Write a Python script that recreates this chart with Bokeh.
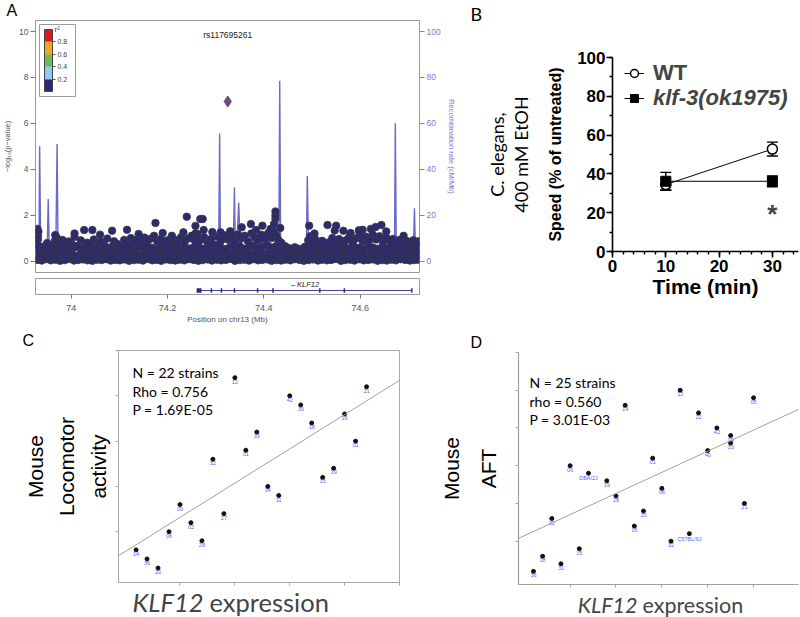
import numpy as np
from bokeh.plotting import figure
from bokeh.models import (Range1d, LinearAxis, FixedTicker, SingleIntervalTicker, Label, ColorBar,
                          LinearColorMapper, Whisker, TeeHead, ColumnDataSource, Legend, LegendItem,
                          Slope, NumeralTickFormatter, Title)
from bokeh.layouts import row, column
from bokeh.core.properties import value
from bokeh.embed import file_html
from bokeh.resources import INLINE

# ---------------- Panel A data (LocusZoom-like) ----------------
snp_band_low = [
    (73.930, 0.05), (73.939, 0.02), (73.948, 0.08), (73.958, 0.03), (73.968, 0.06), (73.977, 0.01), (73.987, 0.04), (73.996, 0.09),
    (74.006, 0.02), (74.015, 0.05), (74.025, 0.07), (74.034, 0.03), (74.044, 0.01), (74.054, 0.06), (74.063, 0.04), (74.072, 0.08),
    (74.082, 0.02), (74.092, 0.05), (74.101, 0.03), (74.111, 0.07), (74.120, 0.01), (74.130, 0.04), (74.139, 0.06), (74.149, 0.02),
    (74.158, 0.09), (74.168, 0.03), (74.178, 0.05), (74.187, 0.01), (74.197, 0.07), (74.206, 0.04), (74.216, 0.02), (74.225, 0.06),
    (74.235, 0.03), (74.245, 0.08), (74.254, 0.05), (74.264, 0.01), (74.273, 0.04), (74.283, 0.07), (74.292, 0.02), (74.302, 0.06),
    (74.311, 0.03), (74.321, 0.05), (74.330, 0.09), (74.340, 0.01), (74.350, 0.04), (74.359, 0.06), (74.369, 0.02), (74.378, 0.08),
    (74.388, 0.03), (74.397, 0.05), (74.407, 0.07), (74.416, 0.01), (74.426, 0.04), (74.436, 0.02), (74.445, 0.06), (74.455, 0.03),
    (74.464, 0.08), (74.474, 0.05), (74.483, 0.01), (74.493, 0.04), (74.502, 0.07), (74.512, 0.02), (74.521, 0.06), (74.531, 0.03),
    (74.540, 0.05), (74.550, 0.09), (74.560, 0.01), (74.569, 0.04), (74.579, 0.06), (74.588, 0.02), (74.598, 0.08), (74.607, 0.03),
    (74.617, 0.05), (74.626, 0.07), (74.636, 0.01), (74.646, 0.04), (74.655, 0.02), (74.665, 0.06), (74.674, 0.03), (74.684, 0.08),
    (74.693, 0.05), (74.703, 0.02), (74.712, 0.04), (74.720, 0.06)]
snp_band_low2 = [
    (73.934, 0.16), (73.944, 0.20), (73.953, 0.13), (73.963, 0.18), (73.972, 0.15), (73.982, 0.21), (73.991, 0.12), (74.001, 0.17),
    (74.010, 0.19), (74.020, 0.14), (74.030, 0.20), (74.039, 0.16), (74.049, 0.13), (74.058, 0.18), (74.068, 0.21), (74.077, 0.15),
    (74.087, 0.12), (74.096, 0.19), (74.106, 0.16), (74.116, 0.14), (74.125, 0.20), (74.135, 0.17), (74.144, 0.13), (74.154, 0.18),
    (74.163, 0.21), (74.173, 0.15), (74.182, 0.12), (74.192, 0.19), (74.202, 0.16), (74.211, 0.20), (74.221, 0.14), (74.230, 0.17),
    (74.240, 0.13), (74.249, 0.21), (74.259, 0.18), (74.268, 0.15), (74.278, 0.12), (74.287, 0.19), (74.297, 0.16), (74.306, 0.20),
    (74.316, 0.13), (74.325, 0.18), (74.335, 0.15), (74.345, 0.21), (74.354, 0.17), (74.364, 0.12), (74.373, 0.19), (74.383, 0.14),
    (74.392, 0.20), (74.402, 0.16), (74.411, 0.13), (74.421, 0.18), (74.431, 0.21), (74.440, 0.15), (74.450, 0.12), (74.459, 0.19),
    (74.469, 0.17), (74.478, 0.14), (74.488, 0.20), (74.497, 0.16), (74.507, 0.13), (74.516, 0.18), (74.526, 0.21), (74.535, 0.15),
    (74.545, 0.12), (74.555, 0.19), (74.564, 0.16), (74.574, 0.20), (74.583, 0.14), (74.593, 0.17), (74.602, 0.13), (74.612, 0.21),
    (74.621, 0.18), (74.631, 0.15), (74.641, 0.12), (74.650, 0.19), (74.660, 0.16), (74.669, 0.20), (74.679, 0.14), (74.688, 0.17),
    (74.698, 0.13), (74.707, 0.18), (74.716, 0.15)]
snp_band_mid = [
    (73.934, 0.30), (73.944, 0.38), (73.953, 0.25), (73.963, 0.42), (73.972, 0.33), (73.982, 0.28), (73.991, 0.40), (74.001, 0.35),
    (74.010, 0.22), (74.020, 0.37), (74.030, 0.31), (74.039, 0.44), (74.049, 0.27), (74.058, 0.36), (74.068, 0.30), (74.077, 0.41),
    (74.087, 0.24), (74.096, 0.34), (74.106, 0.39), (74.116, 0.29), (74.125, 0.43), (74.135, 0.32), (74.144, 0.26), (74.154, 0.38),
    (74.163, 0.35), (74.173, 0.30), (74.182, 0.42), (74.192, 0.25), (74.202, 0.37), (74.211, 0.33), (74.221, 0.40), (74.230, 0.28),
    (74.240, 0.36), (74.249, 0.31), (74.259, 0.44), (74.268, 0.38), (74.278, 0.27), (74.287, 0.35), (74.297, 0.41), (74.306, 0.30),
    (74.316, 0.34), (74.325, 0.39), (74.335, 0.26), (74.345, 0.43), (74.354, 0.32), (74.364, 0.37), (74.373, 0.29), (74.383, 0.40),
    (74.392, 0.35), (74.402, 0.31), (74.411, 0.45), (74.421, 0.38), (74.431, 0.42), (74.440, 0.28), (74.450, 0.24), (74.459, 0.30),
    (74.469, 0.26), (74.478, 0.33), (74.488, 0.29), (74.497, 0.36), (74.507, 0.31), (74.516, 0.40), (74.526, 0.27), (74.535, 0.35),
    (74.545, 0.38), (74.555, 0.30), (74.564, 0.42), (74.574, 0.33), (74.583, 0.29), (74.593, 0.37), (74.602, 0.41), (74.612, 0.26),
    (74.621, 0.34), (74.631, 0.39), (74.641, 0.31), (74.650, 0.43), (74.660, 0.36), (74.669, 0.28), (74.679, 0.40), (74.688, 0.33),
    (74.698, 0.37), (74.707, 0.30), (74.716, 0.35)]
snp_band_upmid = [
    (73.930, 0.55), (73.939, 0.60), (73.948, 0.52), (73.958, 0.63), (73.968, 0.57), (73.977, 0.50), (73.987, 0.61), (73.996, 0.54),
    (74.006, 0.58), (74.015, 0.64), (74.025, 0.51), (74.034, 0.59), (74.044, 0.56), (74.054, 0.62), (74.063, 0.53), (74.072, 0.60),
    (74.082, 0.57), (74.092, 0.50), (74.101, 0.63), (74.111, 0.55), (74.120, 0.59), (74.130, 0.52), (74.139, 0.61), (74.149, 0.56),
    (74.158, 0.64), (74.168, 0.58), (74.178, 0.51), (74.187, 0.60), (74.197, 0.54), (74.206, 0.62), (74.216, 0.57), (74.225, 0.50),
    (74.235, 0.63), (74.245, 0.55), (74.254, 0.59), (74.264, 0.66), (74.273, 0.53), (74.283, 0.61), (74.292, 0.56), (74.302, 0.64),
    (74.311, 0.58), (74.321, 0.52), (74.330, 0.62), (74.340, 0.57), (74.350, 0.65), (74.359, 0.54), (74.369, 0.60), (74.378, 0.68),
    (74.388, 0.56), (74.397, 0.63), (74.407, 0.70), (74.416, 0.59), (74.426, 0.66), (74.436, 0.55), (74.445, 0.48), (74.455, 0.44),
    (74.464, 0.47), (74.474, 0.42), (74.483, 0.46), (74.493, 0.58), (74.502, 0.52), (74.512, 0.61), (74.521, 0.55), (74.531, 0.50),
    (74.540, 0.63), (74.550, 0.57), (74.560, 0.53), (74.569, 0.60), (74.579, 0.55), (74.588, 0.62), (74.598, 0.58), (74.607, 0.52),
    (74.617, 0.64), (74.626, 0.59), (74.636, 0.54), (74.646, 0.61), (74.655, 0.57), (74.665, 0.63), (74.674, 0.53), (74.684, 0.60),
    (74.693, 0.56), (74.703, 0.62), (74.712, 0.58), (74.720, 0.54)]
snp_band_high = [
    (73.929, 0.72), (73.931, 0.95), (73.931, 1.10), (73.932, 1.28), (73.941, 0.62), (73.950, 0.78), (73.959, 0.66), (73.966, 0.88),
    (73.970, 1.02), (73.975, 0.70), (73.982, 0.92), (73.988, 0.60), (73.994, 0.85), (74.001, 0.74), (74.007, 1.05), (74.013, 0.66),
    (74.020, 0.90), (74.027, 0.58), (74.033, 0.80), (74.040, 0.68), (74.047, 0.94), (74.054, 0.62), (74.061, 0.84), (74.068, 0.71),
    (74.075, 0.98), (74.082, 0.60), (74.089, 0.86), (74.096, 0.74), (74.103, 0.64), (74.110, 0.92), (74.118, 0.70), (74.124, 1.00),
    (74.131, 0.82), (74.138, 0.96), (74.145, 0.76), (74.152, 1.02), (74.159, 0.88), (74.166, 0.98), (74.172, 1.10), (74.179, 0.84),
    (74.186, 0.96), (74.193, 0.72), (74.200, 0.90), (74.207, 0.66), (74.214, 0.94), (74.221, 0.80), (74.228, 1.04), (74.236, 0.86),
    (74.243, 0.98), (74.250, 1.10), (74.256, 0.90), (74.262, 1.18), (74.269, 0.92), (74.276, 1.04), (74.283, 0.80), (74.290, 0.96),
    (74.297, 0.72), (74.304, 1.06), (74.311, 0.88), (74.318, 1.12), (74.325, 0.94), (74.332, 1.08), (74.339, 0.84), (74.346, 1.16),
    (74.353, 0.98), (74.360, 1.10), (74.367, 0.86), (74.374, 1.20), (74.381, 1.02), (74.388, 0.90), (74.395, 1.14), (74.402, 0.96),
    (74.409, 1.22), (74.416, 1.00), (74.420, 1.30), (74.426, 1.12), (74.430, 0.92), (74.436, 0.80), (74.443, 0.66), (74.450, 0.58),
    (74.457, 0.52), (74.464, 0.60), (74.471, 0.54), (74.478, 0.50), (74.485, 0.62), (74.492, 0.90), (74.496, 1.08), (74.500, 0.78),
    (74.507, 0.94), (74.514, 0.70), (74.521, 0.88), (74.528, 0.64), (74.535, 0.82), (74.542, 1.00), (74.549, 0.76), (74.556, 0.96),
    (74.563, 0.68), (74.570, 0.90), (74.577, 1.04), (74.584, 0.80), (74.591, 0.98), (74.598, 1.12), (74.605, 0.86), (74.612, 1.06),
    (74.619, 0.92), (74.626, 1.16), (74.633, 0.94), (74.640, 1.08), (74.647, 0.84), (74.654, 1.02), (74.661, 0.88), (74.668, 0.96),
    (74.675, 0.80), (74.682, 0.92), (74.689, 0.76), (74.696, 0.88), (74.703, 0.82), (74.710, 0.90), (74.716, 0.74), (74.721, 0.86)]
snp_upper = [
    (73.930, 1.40), (73.967, 1.13), (74.007, 1.20), (74.027, 1.35), (74.044, 1.35), (74.085, 1.32), (74.116, 1.36), (74.175, 1.66),
    (74.209, 1.10), (74.233, 1.25), (74.240, 1.93), (74.258, 1.53), (74.258, 1.20), (74.268, 1.83), (74.273, 1.83), (74.275, 1.35),
    (74.293, 1.26), (74.354, 1.47), (74.373, 1.61), (74.397, 1.54), (74.421, 1.61), (74.424, 1.85), (74.424, 1.99), (74.424, 2.16),
    (74.434, 1.44), (74.494, 1.54), (74.532, 1.57), (74.547, 1.33), (74.550, 1.54), (74.565, 1.32), (74.597, 1.34), (74.605, 1.36),
    (74.622, 1.40), (74.632, 1.48), (74.644, 1.57), (74.654, 1.29), (74.414, 1.40), (74.310, 1.25), (74.330, 1.30), (74.384, 1.35),
    (74.060, 1.15), (74.140, 1.18), (74.190, 1.22), (74.505, 1.20), (74.580, 1.22), (74.690, 1.10)]
lead_snp = "rs117695261"
lead_pos = 74.325
lead_logp = 6.95

recomb_pos = [73.926, 73.933, 73.9346, 73.937, 73.950, 73.9524, 73.955, 73.968, 73.9708, 73.973, 74.100, 74.306,
              74.3082, 74.310, 74.336, 74.3389, 74.341, 74.343, 74.3477, 74.352, 74.431, 74.4329, 74.435, 74.488,
              74.4901, 74.493, 74.671, 74.6728, 74.675, 74.710, 74.7125, 74.715, 74.723]
recomb_rate = [1.0, 1.0, 50.0, 1.0, 1.0, 27.0, 1.0, 1.0, 51.0, 1.0, 0.5, 0.5,
               55.6, 0.5, 0.5, 32.0, 1.0, 3.0, 25.5, 1.0, 0.5, 78.6, 0.5, 0.5,
               37.0, 1.0, 0.5, 60.0, 0.5, 0.5, 23.0, 0.5, 0.5]

r2_palette = ["#2b2a78", "#8ecbf2", "#6cbd4f", "#f2a52d", "#e0181b"]
r2_ticks = [0.2, 0.4, 0.6, 0.8]

gene_name = ["KLF12"]
gene_start = [74.261]
gene_end = [74.707]
exon_start = [74.261, 74.290, 74.311, 74.338, 74.386, 74.418, 74.515, 74.566, 74.706]
exon_end = [74.270, 74.292, 74.313, 74.340, 74.388, 74.420, 74.517, 74.568, 74.708]
chr_ticks = [74.0, 74.2, 74.4, 74.6]

# ---------------- Panel B data ----------------
time_min = [10, 30]
wt_speed = [34.5, 52.8]
wt_sem = [2.8, 3.6]
klf3_speed = [36.2, 36.2]
klf3_sem = [4.6, 2.8]

# ---------------- Panel C data (ranks) ----------------
c_strains = ["14", "36", "20", "06", "09", "02", "28", "32", "27", "12", "31",
             "33", "34", "11", "42", "39", "18", "15", "19", "16", "01", "21"]
c_expr_rank = [1, 2, 3, 4, 5, 6, 7, 8, 9, 10, 11, 12, 13, 14, 15, 16, 17, 18, 19, 20, 21, 22]
c_loco_rank = [3, 2, 1, 5, 8, 6, 4, 13, 7, 22, 14, 16, 10, 9, 20, 19, 17, 11, 12, 18, 15, 21]
c_stats = ["N = 22 strains", "Rho = 0.756", "P = 1.69E-05"]

# ---------------- Panel D data (ranks) ----------------
d_strains = ["36", "18", "02", "31", "06", "15", "DBA/2J", "", "19", "28", "14", "16", "20",
             "01", "08", "32", "12", "C57BL/6J", "22", "40", "42", "09", "33", "21", "05"]
d_expr_rank = [1, 2, 3, 4, 5, 6, 7, 8, 9, 10, 11, 12, 13, 14, 15, 16, 17, 18, 19, 20, 21, 22.5, 22.5, 24, 25]
d_aft_rank = [1, 3, 8, 2, 15, 4, 14, 21, 13, 11, 23, 7, 9, 16, 12, 5, 25, 6, 22, 17, 20, 19, 18, 10, 24]
d_stats = ["N = 25 strains", "rho = 0.560", "P = 3.01E-03"]

SANS = "Liberation Sans"
CAL = "Lato"


def frame_map(left, right, top, bottom, x0, x1, y0, y1):
    def f(px, py):
        return (x0 + (px - left) / (right - left) * (x1 - x0),
                y0 + (bottom - py) / (bottom - top) * (y1 - y0))
    return f


def txt(p, fmap, px, py, text, size, color="black", font=SANS, style="normal",
        align="left", baseline="middle", bg=None):
    x, y = fmap(px, py)
    p.add_layout(Label(x=x, y=y, text=text, text_font=font, text_font_size=f"{size}px",
                       text_font_style=style, text_color=color, text_align=align,
                       text_baseline=baseline, background_fill_color=bg))


def base_fig(**kw):
    p = figure(output_backend="svg", toolbar_location=None, **kw)
    p.grid.visible = False
    return p


def panel_letter(p, letter, size, offset, font=SANS, valign="top", standoff=0):
    p.title.text = letter
    p.title.align = "left"
    p.title.vertical_align = valign
    p.title.offset = offset
    p.title.standoff = standoff
    p.title.text_font = font
    p.title.text_font_size = f"{size}px"
    p.title.text_font_style = "normal"
    p.title.text_color = "black"


def hide_tick_labels(ax):
    ax.major_label_text_font_size = "1px"
    ax.major_label_text_color = None
    ax.major_label_standoff = 0

# =============== Panel A ===============
FA = frame_map(33, 423, 20, 272, 73.926, 74.723, -0.5, 10.48)
pA = base_fig(width=458, height=276, x_range=Range1d(73.926, 74.723), y_range=Range1d(-0.5, 10.48),
              x_axis_location=None, min_border_left=33, min_border_right=35,
              min_border_top=20, min_border_bottom=4)
panel_letter(pA, "A", 16, -29)
pA.outline_line_color = "#9b9b9b"
ya = pA.yaxis[0]
ya.ticker = FixedTicker(ticks=[0, 2, 4, 6, 8, 10])
ya.axis_line_color = None
ya.major_tick_out = 5
ya.major_tick_in = 0
ya.minor_tick_line_color = None
ya.major_tick_line_color = "#777777"
ya.major_label_text_font = SANS
ya.major_label_text_font_size = "8.5px"
ya.major_label_text_color = "#555555"
ya.major_label_standoff = 2
ya.axis_label = "−log₁₀(p−value)"
ya.axis_label_text_font = SANS
ya.axis_label_text_font_size = "7.5px"
ya.axis_label_text_font_style = "normal"
ya.axis_label_text_color = "#555555"
ya.axis_label_standoff = 4

pA.extra_y_ranges = {"recomb": Range1d(-5.0, 104.8)}
ra = LinearAxis(y_range_name="recomb", ticker=FixedTicker(ticks=[0, 20, 40, 60, 80, 100]))
ra.axis_line_color = None
ra.major_tick_out = 5
ra.major_tick_in = 0
ra.minor_tick_line_color = None
ra.major_tick_line_color = "#8080d0"
ra.major_label_text_font = SANS
ra.major_label_text_font_size = "8.5px"
ra.major_label_text_color = "#7b7bd0"
ra.major_label_standoff = 2
ra.axis_label = "Recombination rate (cM/Mb)"
ra.axis_label_text_font = SANS
ra.axis_label_text_font_size = "7.5px"
ra.axis_label_text_font_style = "normal"
ra.axis_label_text_color = "#7b7bd0"
ra.axis_label_standoff = 3
pA.add_layout(ra, "right")

pA.line(recomb_pos, recomb_rate, y_range_name="recomb", line_color="#6a6acb", line_width=1.4)
for tier in (snp_band_low, snp_band_low2, snp_band_mid, snp_band_upmid, snp_band_high, snp_upper):
    xs, ys = zip(*tier)
    pA.scatter(list(xs), list(ys), size=7.5, marker="circle", fill_color="#2b2a72",
               line_color="#3a3a3a", line_width=0.8)
pA.scatter([lead_pos], [lead_logp], marker="diamond", size=11, fill_color="#7d3f98",
           line_color="#444444", line_width=0.8)
pA.add_layout(Label(x=lead_pos, y=9.83, text=lead_snp, text_font=SANS, text_font_size="8.5px",
                    text_color="#222222", text_align="center", text_baseline="middle"))

mapper = LinearColorMapper(palette=r2_palette, low=0, high=1)
cb = ColorBar(color_mapper=mapper, ticker=FixedTicker(ticks=r2_ticks), location="top_left",
              margin=4, padding=5, width=8, height=62, title=None,
              major_label_text_font_size="7px", major_label_text_font=SANS,
              major_label_text_color="#444444", label_standoff=2,
              major_tick_in=0, major_tick_out=3, major_tick_line_color="#555555",
              bar_line_color="#444444", border_line_color="#9b9b9b",
              background_fill_color="white")
pA.add_layout(cb)
txt(pA, FA, 55, 29, "r²", 8, color="#444444", align="center")

# gene track
pG = base_fig(width=458, height=50, x_range=pA.x_range, y_range=Range1d(0, 1),
              y_axis_location=None, min_border_left=33, min_border_right=35,
              min_border_top=2, min_border_bottom=32)
pG.outline_line_color = "#9b9b9b"
pG.segment(x0=gene_start, y0=[0.25], x1=gene_end, y1=[0.25], line_color="#4646a8", line_width=1)
pG.quad(left=exon_start, right=exon_end, bottom=0.12, top=0.38, fill_color="#2b2a78",
        line_color="#2b2a78", line_width=0.5)
gene_mid = [(s + e) / 2 for s, e in zip(gene_start, gene_end)]
pG.text(x=gene_mid, y=[0.62], text=["←" + g for g in gene_name], text_font=value(SANS),
        text_font_style="italic", text_font_size="7.5px", text_color="#222222",
        text_align="center", text_baseline="middle")
xg = pG.xaxis[0]
xg.ticker = FixedTicker(ticks=chr_ticks)
xg.formatter = NumeralTickFormatter(format="0[.]0")
xg.axis_line_color = None
xg.major_tick_out = 4
xg.major_tick_in = 0
xg.minor_tick_line_color = None
xg.major_tick_line_color = "#777777"
xg.major_label_text_font = SANS
xg.major_label_text_font_size = "9px"
xg.major_label_text_color = "#555555"
xg.major_label_standoff = 6
xg.axis_label = "Position on chr13 (Mb)"
xg.axis_label_text_font = SANS
xg.axis_label_text_font_size = "8px"
xg.axis_label_text_font_style = "normal"
xg.axis_label_text_color = "#555555"
xg.axis_label_standoff = 1

# =============== Panel B ===============
FB = frame_map(612, 798, 57, 251, 0, 34.9, 0, 100)
pB = base_fig(width=342, height=326, x_range=Range1d(0, 34.9), y_range=Range1d(0, 100),
              min_border_left=154, min_border_right=2, min_border_top=57, min_border_bottom=75)
# spacer between the frame and the panel letter, so that the letter sits near the top
pB.add_layout(Title(text=" ", text_font_size="28px", standoff=0), "above")
panel_letter(pB, "B", 18, -142, font=CAL, valign="bottom", standoff=0)
pB.outline_line_color = None
xb = pB.xaxis[0]
xb.ticker = SingleIntervalTicker(interval=10, num_minor_ticks=5)
yb = pB.yaxis[0]
yb.ticker = SingleIntervalTicker(interval=20, num_minor_ticks=2)
for ax in (xb, yb):
    ax.axis_line_width = 1.6
    ax.axis_line_color = "black"
    ax.major_tick_out = 6
    ax.major_tick_in = 0
    ax.minor_tick_out = 3
    ax.minor_tick_in = 0
    ax.major_tick_line_width = 1.6
    ax.minor_tick_line_width = 1.4
    ax.major_label_text_font = SANS
    ax.major_label_text_font_style = "bold"
    ax.major_label_text_font_size = "17px"
    ax.major_label_text_color = "black"
    ax.axis_label_text_font = SANS
    ax.axis_label_text_font_style = "bold"
    ax.axis_label_text_color = "black"
xb.major_label_standoff = 2
xb.axis_label = "Time (min)"
xb.axis_label_text_font_size = "21px"
xb.axis_label_standoff = 0
yb.major_label_standoff = 1
yb.axis_label = "Speed (% of untreated)"
yb.axis_label_text_font_size = "16px"
yb.axis_label_standoff = 10
ax2 = LinearAxis(ticker=FixedTicker(ticks=[]), axis_label="C. elegans,\n400 mM EtOH")
ax2.axis_line_color = None
ax2.major_tick_out = 0
ax2.major_tick_in = 0
ax2.minor_tick_line_color = None
hide_tick_labels(ax2)
ax2.axis_label_text_font = CAL
ax2.axis_label_text_font_size = "18px"
ax2.axis_label_text_font_style = "normal"
ax2.axis_label_text_color = "black"
ax2.axis_label_text_line_height = 1.05
ax2.axis_label_standoff = 13
pB.add_layout(ax2, "left")

wt_line = pB.line(time_min, wt_speed, line_color="black", line_width=1)
klf_line = pB.line(time_min, klf3_speed, line_color="black", line_width=1)
for mean, sem in ((wt_speed, wt_sem), (klf3_speed, klf3_sem)):
    src = ColumnDataSource(dict(t=time_min, up=[m + s for m, s in zip(mean, sem)],
                                lo=[m - s for m, s in zip(mean, sem)]))
    pB.add_layout(Whisker(source=src, base="t", upper="up", lower="lo", line_color="black",
                          line_width=1.4,
                          upper_head=TeeHead(size=11, line_color="black", line_width=1.4),
                          lower_head=TeeHead(size=11, line_color="black", line_width=1.4)))
wt_pts = pB.scatter(time_min, wt_speed, marker="circle", size=10, fill_color="white",
                    line_color="black", line_width=1.5)
klf_pts = pB.scatter(time_min, klf3_speed, marker="square", size=10, fill_color="black",
                     line_color="black", line_width=1)
for lbl, rends, yb0, style in (("WT", [wt_line, wt_pts], 165, "bold"),
                               ("klf-3(ok1975)", [klf_line, klf_pts], 140, "bold italic")):
    lg = Legend(items=[LegendItem(label=lbl, renderers=rends)], location=(12, yb0),
                border_line_color=None, background_fill_alpha=0, padding=0, margin=0,
                glyph_width=20, glyph_height=22, label_height=22, label_standoff=9,
                label_text_font=SANS, label_text_font_size="22px", label_text_font_style=style)
    pB.add_layout(lg)
pB.add_layout(Label(x=time_min[1], y=19.5, text="*", text_font=SANS, text_font_size="26px",
                    text_font_style="bold", text_align="center", text_baseline="middle"))

# =============== Panel C ===============
FC = frame_map(118, 399, 350, 582, -0.6, 25, -0.6, 25)
pC = base_fig(width=400, height=260, x_range=Range1d(-0.6, 25), y_range=Range1d(-0.6, 25),
              min_border_left=118, min_border_right=1, min_border_top=24, min_border_bottom=4)
panel_letter(pC, "C", 16, -96)
pC.outline_line_color = "#a8a8a8"
for ax in (pC.xaxis[0], pC.yaxis[0]):
    ax.ticker = FixedTicker(ticks=[5, 10, 15, 20, 25])
    ax.axis_line_color = None
    ax.major_tick_out = 3
    ax.major_tick_in = 0
    ax.major_tick_line_color = "#a8a8a8"
    ax.minor_tick_line_color = None
    hide_tick_labels(ax)
yc = pC.yaxis[0]
yc.axis_label = "Mouse\nLocomotor\nactivity"
yc.axis_label_text_font = SANS
yc.axis_label_text_font_size = "21px"
yc.axis_label_text_font_style = "normal"
yc.axis_label_text_color = "black"
yc.axis_label_text_line_height = 1.35
yc.axis_label_standoff = 6
mc, bc = np.polyfit(c_expr_rank, c_loco_rank, 1)
pC.add_layout(Slope(gradient=mc, y_intercept=bc, line_color="#a0a0a0", line_width=1))
pC.scatter(c_expr_rank, c_loco_rank, size=4, color="#111111")
pC.text(x=c_expr_rank, y=c_loco_rank, text=c_strains, y_offset=2, text_align="center",
        text_baseline="top", text_font=value(SANS), text_font_size="5.5px", text_color="#5c5cff")
for i, s in enumerate(c_stats):
    txt(pC, FC, 132, 372 + 18.7 * i, s, 14, font=CAL)

# x-axis title row of C (page pixels as coordinates)
pCl = base_fig(width=400, height=31, x_range=Range1d(118, 399), y_range=Range1d(0, 31),
               x_axis_location=None, y_axis_location=None, min_border_left=118,
               min_border_right=1, min_border_top=0, min_border_bottom=0)
pCl.outline_line_color = None
pCl.add_layout(Label(x=203, y=16, text="KLF12", text_font=CAL, text_font_size="25.5px",
                     text_font_style="italic", text_align="right", text_baseline="middle"))
pCl.add_layout(Label(x=209, y=16, text="expression", text_font=CAL, text_font_size="25.5px",
                     text_align="left", text_baseline="middle"))

# =============== Panel D ===============
FD = frame_map(518, 798, 352, 584, -0.63, 29.9, -0.74, 30)
pD = base_fig(width=400, height=262, x_range=Range1d(-0.63, 29.9), y_range=Range1d(-0.74, 30),
              min_border_left=118, min_border_right=2, min_border_top=26, min_border_bottom=4)
panel_letter(pD, "D", 16, -48)
pD.outline_line_color = None
pD.xaxis[0].ticker = FixedTicker(ticks=[5, 10, 15, 20, 25])
pD.yaxis[0].ticker = FixedTicker(ticks=[5, 10, 15, 20, 25, 30])
for ax in (pD.xaxis[0], pD.yaxis[0]):
    ax.axis_line_color = "#a0a0a0"
    ax.axis_line_width = 1.2
    ax.major_tick_out = 3
    ax.major_tick_in = 0
    ax.major_tick_line_color = "#a8a8a8"
    ax.minor_tick_line_color = None
    hide_tick_labels(ax)
yd = pD.yaxis[0]
yd.axis_label = "Mouse\nAFT"
yd.axis_label_text_font = SANS
yd.axis_label_text_font_size = "21px"
yd.axis_label_text_font_style = "normal"
yd.axis_label_text_color = "black"
yd.axis_label_text_line_height = 1.6
yd.axis_label_standoff = 16
md, bd = np.polyfit(d_expr_rank, d_aft_rank, 1)
pD.add_layout(Slope(gradient=md, y_intercept=bd, line_color="#a0a0a0", line_width=1))
pD.scatter(d_expr_rank, d_aft_rank, size=4, color="#111111")
pD.text(x=d_expr_rank, y=d_aft_rank, text=d_strains, y_offset=2, text_align="center",
        text_baseline="top", text_font=value(SANS), text_font_size="5.5px", text_color="#5c5cff")
for i, s in enumerate(d_stats):
    txt(pD, FD, 529, 381.7 + 18.8 * i, s, 14, font=CAL, bg="white")

pDl = base_fig(width=400, height=29, x_range=Range1d(518, 798), y_range=Range1d(0, 29),
               x_axis_location=None, y_axis_location=None, min_border_left=118,
               min_border_right=2, min_border_top=0, min_border_bottom=0)
pDl.outline_line_color = None
pDl.add_layout(Label(x=637, y=13, text="KLF12", text_font=CAL, text_font_size="21.5px",
                     text_font_style="italic", text_align="right", text_baseline="middle"))
pDl.add_layout(Label(x=642, y=13, text="expression", text_font=CAL, text_font_size="21.5px",
                     text_align="left", text_baseline="middle"))

layout = column(row(column(pA, pG), pB), row(column(pC, pCl), column(pD, pDl)))
open("out.html", "w").write(file_html(layout, INLINE))
